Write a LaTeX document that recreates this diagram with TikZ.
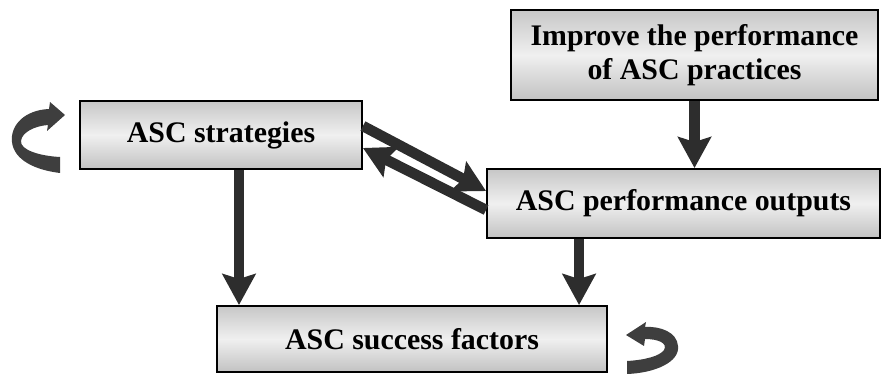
\documentclass[tikz,border=0pt]{standalone}
\usepackage{fontspec}
\setmainfont{Liberation Serif}
\usepackage{tikz}
\usetikzlibrary{arrows.meta}
\definecolor{ascdark}{RGB}{45,45,45}

\begin{document}
\begin{tikzpicture}[x=0.02cm, y=-0.02cm,
    ascbox/.style={draw=black, line width=1.1pt, shading=axis, top color=black!22,
        bottom color=black!24, middle color=black!6, align=center, inner sep=0pt,
        font=\bfseries\fontsize{17}{19}\selectfont},
    flow/.style={draw=ascdark, line width=6pt,
        -{Stealth[width=0.66cm, length=0.62cm, inset=0.1cm]}},
    loop/.style={fill=ascdark!92}]
    \useasboundingbox (0,0) rectangle (885,374);

    % Boxes
    \node[ascbox, minimum width=7.34cm, minimum height=1.80cm] (improve) at (694.5,55)
        {Improve the performance\\of ASC practices};
    \node[ascbox, minimum width=5.64cm, minimum height=1.36cm] (strat) at (221,135)
        {ASC strategies};
    \node[ascbox, minimum width=7.86cm, minimum height=1.38cm] (perf) at (683.5,203.5)
        {ASC performance outputs};
    \node[ascbox, minimum width=7.80cm, minimum height=1.32cm] (succ) at (412,339)
        {ASC success factors};

    % Vertical arrows
    \draw[flow] (improve.south) -- (improve.south |- perf.north);
    \coordinate (s1) at ([xshift=0.36cm]strat.south);
    \draw[flow] (s1) -- (s1 |- succ.north);
    \coordinate (p1) at ([xshift=1.86cm]perf.south west);
    \draw[flow] (p1) -- (p1 |- succ.north);

    % Diagonal arrows between strategies and outputs
    \draw[flow] ([yshift=-0.52cm]strat.north east) -- ([yshift=-0.46cm]perf.north west);
    \draw[flow] ([yshift=-0.13cm]perf.west) -- ([yshift=-0.26cm]strat.east);

    % Curved arrow (left)
    \fill[loop] (65,115) -- (50,102) -- (49,109)
        .. controls (25,110) and (10,125) .. (12,142)
        .. controls (14,160) and (35,170) .. (60,173) -- (60,157)
        .. controls (40,156) and (20,150) .. (21,141)
        .. controls (22,132) and (35,126) .. (48,125) -- (47,131) -- cycle;

    % Curved arrow (right)
    \fill[loop] (626,335) -- (646,322) -- (645,327)
        .. controls (660,326) and (677,332) .. (678,346)
        .. controls (680,362) and (655,373) .. (627,374) -- (627,361)
        .. controls (645,360) and (660,356) .. (664,350)
        .. controls (668,343) and (658,339) .. (645,339) -- (644,346) -- cycle;
\end{tikzpicture}
\end{document}
